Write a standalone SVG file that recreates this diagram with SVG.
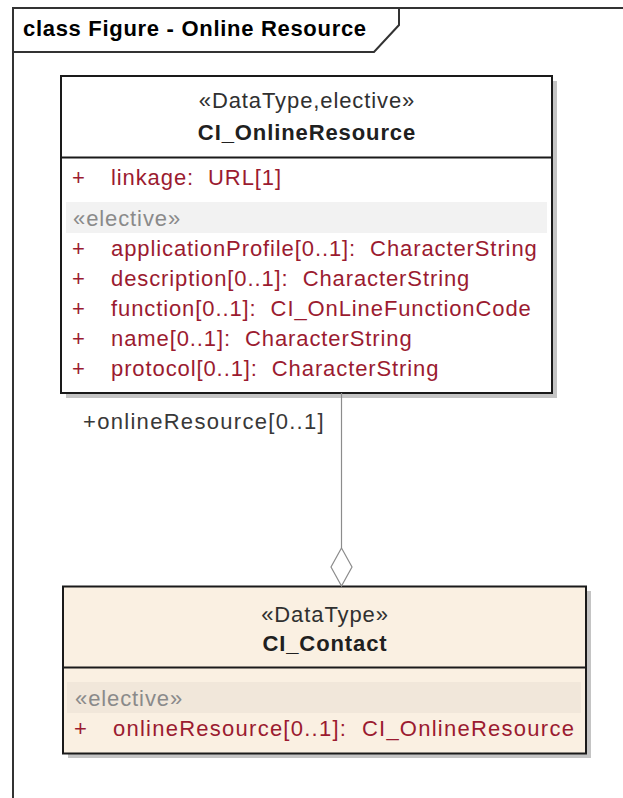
<svg xmlns="http://www.w3.org/2000/svg" width="623" height="798" viewBox="0 0 623 798">
  <style>
    text { font-family: "Liberation Sans", Arial, sans-serif; font-size: 22px; letter-spacing: 0.9px; }
    .title { font-weight: bold; fill: #000; letter-spacing: 0.7px; }
    .stereo { text-anchor: middle; fill: #303030; }
    .name { text-anchor: middle; font-weight: bold; fill: #202020; }
    .attr { fill: #9b1b30; white-space: pre; }
    .sect { fill: #8a8a8a; }
    .role { fill: #383838; letter-spacing: 1.3px; }
    .box { stroke: #1a1a1a; stroke-width: 2; }
    .shadow { fill: #c4c4c4; }
    .sep { stroke: #1a1a1a; stroke-width: 2; }
    .conn { stroke: #8c8c8c; stroke-width: 1.2; fill: none; }
  </style>

  <rect width="623" height="798" fill="#ffffff"/>

  <!-- diagram frame with name tab -->
  <g id="frame" fill="none" stroke="#333333" stroke-width="2">
    <path d="M13,798 V8 H623"/>
    <path d="M13,52 H374 L399,25 V8"/>
  </g>
  <text class="title" x="23" y="36">class Figure - Online Resource</text>

  <!-- CI_OnlineResource -->
  <g id="CI_OnlineResource">
    <rect class="shadow" x="66" y="81" width="491" height="317"/>
    <rect class="box" x="61" y="76" width="491" height="317" fill="#ffffff"/>
    <text class="stereo" x="307" y="108">«DataType,elective»</text>
    <text class="name" x="307" y="140">CI_OnlineResource</text>
    <line class="sep" x1="61" y1="157.5" x2="552" y2="157.5"/>
    <text class="attr" x="72" y="185">+</text>
    <text class="attr" x="111" y="185">linkage:  URL[1]</text>
    <rect x="66" y="202" width="481" height="31" fill="#f2f2f2"/>
    <text class="sect" x="73" y="226">«elective»</text>
    <text class="attr" x="72" y="256">+</text>
    <text class="attr" x="111" y="256">applicationProfile[0..1]:  CharacterString</text>
    <text class="attr" x="72" y="286">+</text>
    <text class="attr" x="111" y="286">description[0..1]:  CharacterString</text>
    <text class="attr" x="72" y="316">+</text>
    <text class="attr" x="111" y="316">function[0..1]:  CI_OnLineFunctionCode</text>
    <text class="attr" x="72" y="346">+</text>
    <text class="attr" x="111" y="346">name[0..1]:  CharacterString</text>
    <text class="attr" x="72" y="376">+</text>
    <text class="attr" x="111" y="376">protocol[0..1]:  CharacterString</text>
  </g>

  <!-- CI_Contact -->
  <g id="CI_Contact">
    <rect class="shadow" x="68" y="591" width="523" height="167"/>
    <rect class="box" x="63" y="586.5" width="523" height="167" fill="#faf0e2"/>
    <text class="stereo" x="325" y="622" fill="#202020">«DataType»</text>
    <text class="name" x="325" y="651">CI_Contact</text>
    <line class="sep" x1="63" y1="667.5" x2="586" y2="667.5"/>
    <rect x="67" y="682" width="514" height="31" fill="#f1e7da"/>
    <text class="sect" x="75" y="706">«elective»</text>
    <text class="attr" x="74" y="736">+</text>
    <text class="attr" x="113" y="736" style="letter-spacing:1.25px">onlineResource[0..1]:  CI_OnlineResource</text>
  </g>

  <!-- aggregation: CI_Contact holds CI_OnlineResource -->
  <g id="connectors">
    <line class="conn" x1="341.5" y1="393" x2="341.5" y2="548"/>
    <path class="conn" d="M341.5,548 L352,567 L341.5,586 L331,567 Z" fill="#fbf0e2"/>
    <text class="role" x="83" y="429">+onlineResource[0..1]</text>
  </g>
</svg>
